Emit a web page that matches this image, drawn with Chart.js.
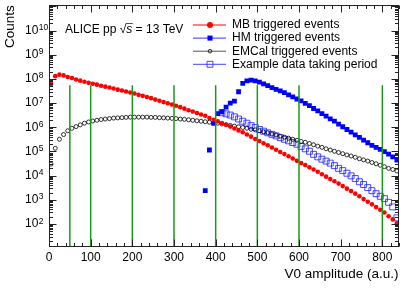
<!DOCTYPE html>
<html>
<head>
<meta charset="utf-8">
<script src="https://cdn.jsdelivr.net/npm/chart.js@4.4.1/dist/chart.umd.min.js"></script>
<style>
  html, body { margin: 0; padding: 0; background: #fff; }
  canvas { display: block; }
</style>
</head>
<body>
<canvas id="v0Chart" width="407" height="292"></canvas>
<script>
// V0 amplitude bin centres (a.u.)
const v0Bins = [5, 15, 25, 35, 45, 55, 65, 75, 85, 95,
  105, 115, 125, 135, 145, 155, 165, 175, 185, 195,
  205, 215, 225, 235, 245, 255, 265, 275, 285, 295,
  305, 315, 325, 335, 345, 355, 365, 375, 385, 395,
  405, 415, 425, 435, 445, 455, 465, 475, 485, 495,
  505, 515, 525, 535, 545, 555, 565, 575, 585, 595,
  605, 615, 625, 635, 645, 655, 665, 675, 685, 695,
  705, 715, 725, 735, 745, 755, 765, 775, 785, 795,
  805, 815, 825, 835];

const mbCounts = [6.2e7, 1.3e8, 1.5e8, 1.4e8, 1.2e8, 1.1e8, 9.5e7, 8.5e7, 7.6e7, 6.9e7,
  6.3e7, 5.8e7, 5.2e7, 4.8e7, 4.4e7, 4.0e7, 3.6e7, 3.3e7, 3.0e7, 2.75e7,
  2.5e7, 2.2e7, 2.0e7, 1.8e7, 1.6e7, 1.4e7, 1.26e7, 1.1e7, 9.8e6, 8.7e6,
  7.8e6, 6.8e6, 5.9e6, 5.1e6, 4.5e6, 3.9e6, 3.4e6, 3.0e6, 2.4e6, 2.05e6,
  1.75e6, 1.5e6, 1.26e6, 1.07e6, 8.9e5, 7.4e5, 6.2e5, 5.0e5, 4.1e5, 3.3e5,
  2.7e5, 2.2e5, 1.8e5, 1.45e5, 1.17e5, 9.5e4, 7.8e4, 6.3e4, 5.1e4, 4.1e4,
  3.3e4, 2.75e4, 2.2e4, 1.8e4, 1.45e4, 1.15e4, 9.1e3, 7.2e3, 5.9e3, 4.7e3,
  3.7e3, 2.9e3, 2.3e3, 1.8e3, 1.4e3, 1070, 830, 650, 500, 390,
  300, 210, 155, 107];

const emcalCounts = [3.0e4, 1.35e5, 3.2e5, 5.0e5, 7.2e5, 9.1e5, 1.07e6, 1.26e6, 1.48e6, 1.66e6,
  1.82e6, 1.95e6, 2.09e6, 2.19e6, 2.29e6, 2.4e6, 2.45e6, 2.5e6, 2.57e6, 2.63e6,
  2.63e6, 2.63e6, 2.63e6, 2.63e6, 2.57e6, 2.57e6, 2.5e6, 2.45e6, 2.4e6, 2.34e6,
  2.29e6, 2.19e6, 2.14e6, 2.04e6, 1.95e6, 1.86e6, 1.78e6, 1.7e6, 1.62e6, 1.55e6,
  1.48e6, 1.38e6, 1.29e6, 1.2e6, 1.12e6, 1.05e6, 9.8e5, 9.1e5, 8.3e5, 7.8e5,
  7.2e5, 6.5e5, 5.9e5, 5.25e5, 4.8e5, 4.3e5, 3.9e5, 3.55e5, 3.2e5, 2.9e5,
  2.6e5, 2.4e5, 2.14e5, 1.9e5, 1.66e5, 1.48e5, 1.29e5, 1.15e5, 1.02e5, 9.1e4,
  8.1e4, 7.2e4, 6.5e4, 5.75e4, 5.0e4, 4.5e4, 4.0e4, 3.5e4, 3.1e4, 2.7e4,
  2.35e4, 2.0e4, 1.8e4, 1.55e4];

// HM triggered events start at 375
const hmCounts = [2400, 1.15e5, 1.45e6, 3.7e6, 4.4e6, 6.8e6, 1.0e7, 1.2e7, 2.95e7, 6.5e7,
  8.3e7, 8.9e7, 8.3e7, 7.4e7, 6.2e7, 5.25e7, 4.4e7, 3.7e7, 3.2e7, 2.7e7,
  2.2e7, 1.8e7, 1.48e7, 1.23e7, 9.8e6, 7.9e6, 6.0e6, 4.8e6, 3.7e6, 2.9e6,
  2.24e6, 1.8e6, 1.35e6, 1.05e6, 8.1e5, 6.3e5, 4.9e5, 3.8e5, 2.95e5, 2.3e5,
  1.8e5, 1.48e5, 1.23e5, 9.8e4, 7.8e4, 6.0e4, 4.4e4];

// example period starts at 415
const exampleCounts = [4.0e6, 3.6e6, 3.2e6, 2.7e6, 2.2e6, 1.78e6, 1.48e6, 1.17e6, 9.8e5, 8.1e5,
  6.9e5, 5.9e5, 5.1e5, 4.4e5, 3.7e5, 3.2e5, 2.75e5, 2.34e5, 2.0e5, 1.62e5,
  1.29e5, 1.02e5, 7.6e4, 6.0e4, 4.8e4, 4.0e4, 3.3e4, 2.6e4, 2.0e4, 1.62e4,
  1.26e4, 9.8e3, 7.6e3, 5.6e3, 4.3e3, 3.2e3, 2.4e3, 1.8e3, 1.4e3, 1.12e3,
  790, 510, 180];

const hmBins = v0Bins.slice(v0Bins.indexOf(375));
const exampleBins = v0Bins.slice(v0Bins.indexOf(415));

// green markers
const boundaries = [50, 100, 200, 300, 400, 500, 600, 800];
const boundaryTop = 5.5e7;

const xTickLabels = ['0', '100', '200', '300', '400', '500', '600', '700', '800'];
const yTickExponents = [2, 3, 4, 5, 6, 7, 8, 9, 10];

const FONT = "'Liberation Sans', Arial, Helvetica, sans-serif";

const toPoints = (xs, ys) => xs.map((x, i) => ({ x: x, y: ys[i] }));

const boundaryPoints = [];
boundaries.forEach(b => {
  boundaryPoints.push({ x: b, y: 1 }, { x: b, y: boundaryTop }, { x: b, y: null });
});

const rootTicks = {
  id: 'rootTicks',
  afterDraw(chart) {
    const { ctx, chartArea: a, scales: { x, y } } = chart;
    const L = Math.round(a.left) + 0.5, R = Math.round(a.right) - 0.5;
    const T = Math.round(a.top) + 0.5, B = Math.round(a.bottom) - 0.5;
    ctx.save();
    ctx.strokeStyle = '#222';
    ctx.lineWidth = 1;
    ctx.strokeRect(L, T, R - L, B - T);
    ctx.beginPath();
    for (let v = 0; v <= x.max; v += 20) {
      const px = Math.round(x.getPixelForValue(v)) + 0.5;
      const len = v % 100 === 0 ? 7 : 3.5;
      ctx.moveTo(px, B); ctx.lineTo(px, B - len);
      ctx.moveTo(px, T); ctx.lineTo(px, T + len);
    }
    for (let e = 1; e <= 11; e++) {
      for (let m = 1; m <= 9; m++) {
        const v = m * Math.pow(10, e);
        if (v < y.min || v > y.max) continue;
        const py = Math.round(y.getPixelForValue(v)) + 0.5;
        const len = m === 1 ? 7 : 3.5;
        ctx.moveTo(L, py); ctx.lineTo(L + len, py);
        ctx.moveTo(R, py); ctx.lineTo(R - len, py);
      }
    }
    ctx.stroke();

    // y tick labels: 10 with raised exponent
    ctx.fillStyle = '#000';
    yTickExponents.forEach(e => {
      const py = y.getPixelForValue(Math.pow(10, e));
      ctx.font = '12px ' + FONT;
      ctx.textAlign = 'left';
      ctx.textBaseline = 'middle';
      ctx.fillText('10', 25, py);
      const bw = ctx.measureText('10').width;
      ctx.font = '8.5px ' + FONT;
      ctx.textBaseline = 'alphabetic';
      ctx.fillText(String(e), 25 + bw + 0.5, py - 0.5);
    });

    // axis titles
    ctx.font = '13.5px ' + FONT;
    ctx.textBaseline = 'middle';
    ctx.textAlign = 'right';
    ctx.fillText('V0 amplitude (a.u.)', R, 274);
    ctx.save();
    ctx.translate(10, a.top);
    ctx.rotate(-Math.PI / 2);
    ctx.fillText('Counts', 0, 0);
    ctx.restore();

    // ALICE label
    ctx.font = '12px ' + FONT;
    ctx.textAlign = 'left';
    let tx = 65;
    const ty = 30;
    ctx.fillText('ALICE pp ', tx, ty);
    tx += ctx.measureText('ALICE pp ').width;
    ctx.fillText('√', tx, ty);
    tx += ctx.measureText('√').width;
    ctx.font = 'italic 12px ' + FONT;
    const sw = ctx.measureText('s').width;
    ctx.fillText('s', tx, ty);
    ctx.beginPath();
    ctx.moveTo(tx - 0.5, ty - 6.5); ctx.lineTo(tx + sw + 0.5, ty - 6.5);
    ctx.lineWidth = 0.8;
    ctx.stroke();
    tx += sw;
    ctx.font = '12px ' + FONT;
    ctx.fillText(' = 13 TeV', tx, ty);

    // legend
    const rows = chart.data.datasets.filter(d => d.inLegend);
    rows.forEach((d, i) => {
      const ry = 25 + i * 13.1;
      ctx.beginPath();
      ctx.strokeStyle = d.legendLine;
      ctx.lineWidth = 1;
      ctx.moveTo(193, ry); ctx.lineTo(226, ry);
      ctx.stroke();
      ctx.fillStyle = d.pointBackgroundColor;
      ctx.strokeStyle = d.pointBorderColor;
      ctx.lineWidth = d.pointBorderWidth;
      Chart.helpers.drawPoint(ctx, {
        pointStyle: d.pointStyle, radius: d.legendRadius, rotation: 0, borderWidth: d.pointBorderWidth
      }, 210, ry);
      ctx.fillStyle = '#000';
      ctx.font = '12px ' + FONT;
      ctx.textAlign = 'left';
      ctx.textBaseline = 'middle';
      ctx.fillText(d.label, 232, ry);
    });
    ctx.restore();
  }
};

new Chart(document.getElementById('v0Chart'), {
  type: 'scatter',
  data: {
    datasets: [
      {
        label: 'run boundaries',
        data: boundaryPoints,
        showLine: true,
        spanGaps: false,
        borderColor: '#1a9a1a',
        borderWidth: 1.5,
        pointRadius: 0,
        order: 0
      },
      {
        label: 'MB triggered events',
        data: toPoints(v0Bins, mbCounts),
        inLegend: true,
        pointStyle: 'circle',
        pointRadius: 2.3,
        legendRadius: 3,
        pointBackgroundColor: '#ff0000',
        pointBorderColor: '#ff0000',
        pointBorderWidth: 0,
        legendLine: '#ff0000',
        order: 1
      },
      {
        label: 'HM triggered events',
        data: toPoints(hmBins, hmCounts),
        inLegend: true,
        pointStyle: 'rect',
        pointRadius: 3.4,
        legendRadius: 3.6,
        pointBackgroundColor: '#0000ff',
        pointBorderColor: '#0000ff',
        pointBorderWidth: 0,
        legendLine: '#3333ff',
        order: 2
      },
      {
        label: 'EMCal triggered events',
        data: toPoints(v0Bins, emcalCounts),
        inLegend: true,
        pointStyle: 'circle',
        pointRadius: 2,
        legendRadius: 1.8,
        pointBackgroundColor: 'rgba(0,0,0,0)',
        pointBorderColor: '#000000',
        pointBorderWidth: 0.8,
        legendLine: '#555555',
        order: 3
      },
      {
        label: 'Example data taking period',
        data: toPoints(exampleBins, exampleCounts),
        inLegend: true,
        pointStyle: 'rect',
        pointRadius: 4.2,
        legendRadius: 4.2,
        pointBackgroundColor: 'rgba(0,0,0,0)',
        pointBorderColor: 'rgba(40,40,255,0.85)',
        pointBorderWidth: 1,
        legendLine: '#4444ff',
        order: 4
      }
    ]
  },
  options: {
    responsive: false,
    animation: false,
    events: [],
    layout: { padding: { top: 5, right: 8, left: 0, bottom: 0 } },
    plugins: { legend: { display: false }, tooltip: { enabled: false } },
    scales: {
      x: {
        type: 'linear',
        min: 0,
        max: 840,
        afterFit: s => { s.height = 45; },
        grid: { display: false, drawTicks: false },
        border: { display: false },
        ticks: {
          stepSize: 100,
          includeBounds: false,
          maxRotation: 0,
          autoSkip: false,
          padding: 3,
          color: '#000',
          font: { family: FONT, size: 12 },
          callback: v => xTickLabels.includes(String(v)) ? String(v) : ''
        }
      },
      y: {
        type: 'logarithmic',
        min: 11.2,
        max: 1.12e11,
        afterFit: s => { s.width = 49; },
        grid: { display: false, drawTicks: false },
        border: { display: false },
        ticks: { display: false }
      }
    }
  },
  plugins: [rootTicks]
});
</script>
</body>
</html>
